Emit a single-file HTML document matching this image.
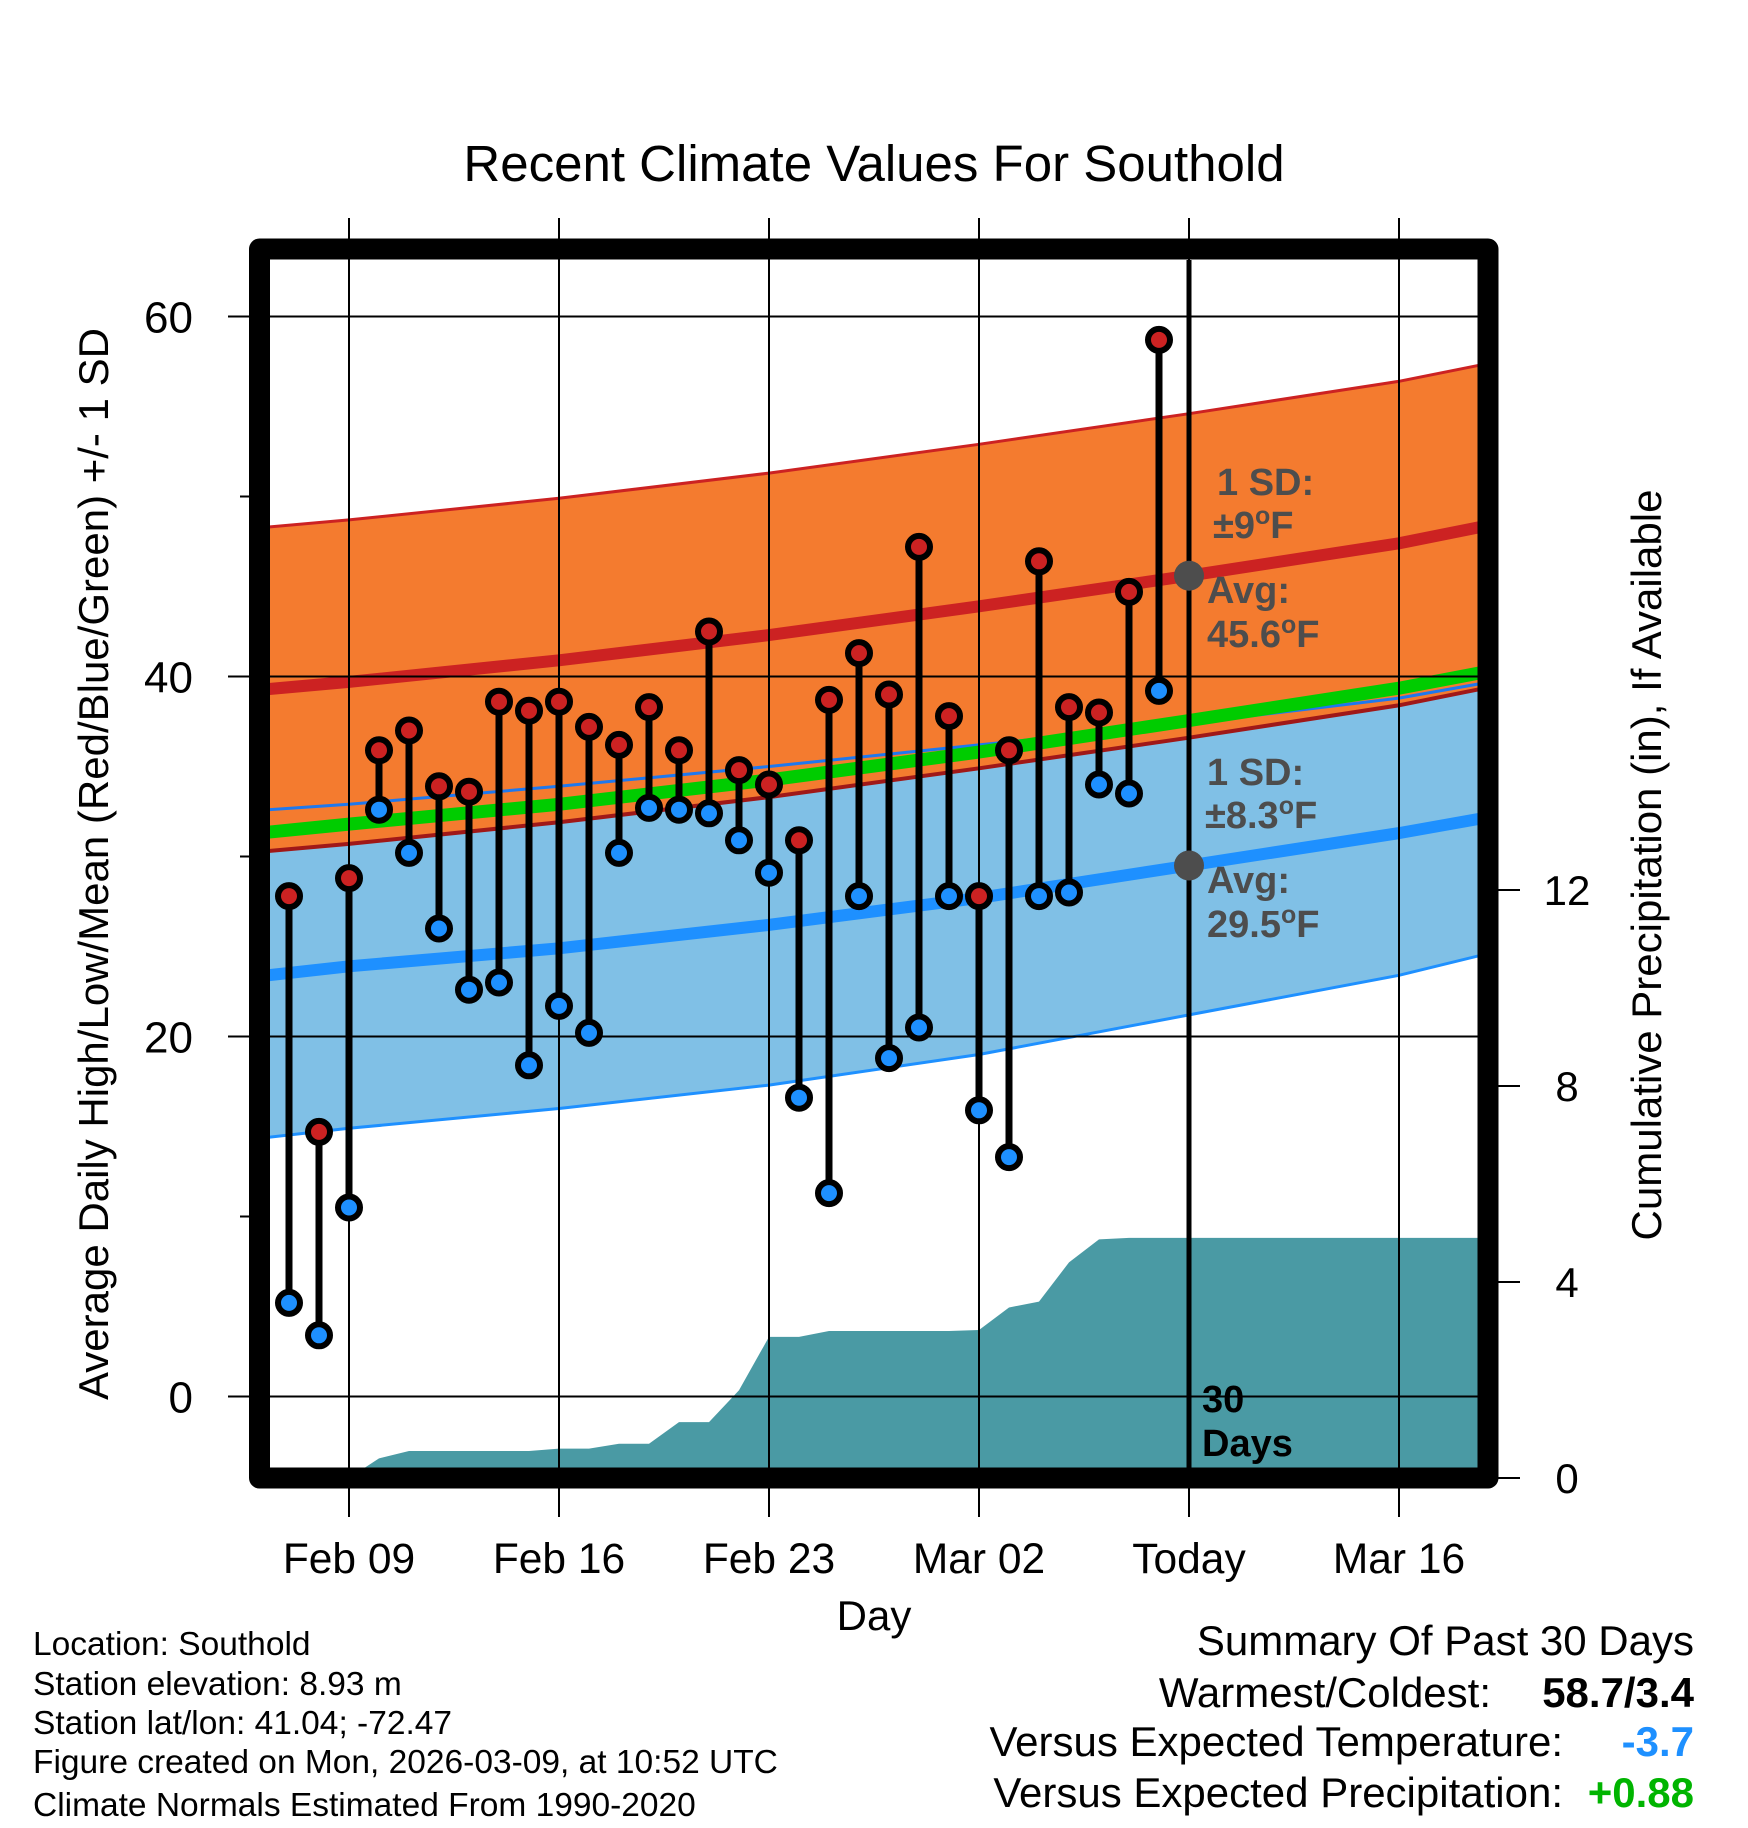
<!DOCTYPE html>
<html><head><meta charset="utf-8"><style>
html,body{margin:0;padding:0;background:#fff;}
svg{display:block;font-family:"Liberation Sans",sans-serif;}
</style></head><body>
<svg id="chart" width="1748" height="1828" viewBox="0 0 1748 1828" xmlns="http://www.w3.org/2000/svg">
<defs><clipPath id="plotclip"><rect x="270" y="260" width="1208" height="1208"/></clipPath></defs>
<text x="874" y="181" font-size="51" text-anchor="middle">Recent Climate Values For Southold</text>
<g id="grid"></g>
<g id="bands" clip-path="url(#plotclip)"></g>
<g id="precip" clip-path="url(#plotclip)"></g>
<g id="gridover" clip-path="url(#plotclip)"></g>
<g id="marks"></g>
<g id="annot" font-weight="bold" font-size="38" fill="#4d4d4d">
<text x="1217" y="495">1 SD:</text>
<text x="1213" y="538">±9<tspan font-size="25" dy="-14">o</tspan><tspan dy="14">F</tspan></text>
<text x="1207" y="603">Avg:</text>
<text x="1207" y="647">45.6<tspan font-size="25" dy="-14">o</tspan><tspan dy="14">F</tspan></text>
<text x="1207" y="785">1 SD:</text>
<text x="1205" y="828">±8.3<tspan font-size="25" dy="-14">o</tspan><tspan dy="14">F</tspan></text>
<text x="1207" y="893">Avg:</text>
<text x="1207" y="937">29.5<tspan font-size="25" dy="-14">o</tspan><tspan dy="14">F</tspan></text>
<text x="1202" y="1412" fill="#000">30</text>
<text x="1202" y="1456" fill="#000">Days</text>
</g>
<rect x="259.5" y="249" width="1228.5" height="1229" fill="none" stroke="#000" stroke-width="21" stroke-linejoin="round"/>
<g id="axes"></g>
<text transform="translate(108,864) rotate(-90)" font-size="42" text-anchor="middle">Average Daily High/Low/Mean (Red/Blue/Green) +/- 1 SD</text>
<text transform="translate(1661,865) rotate(-90)" font-size="42" text-anchor="middle">Cumulative Precipitation (in), If Available</text>
<text x="874" y="1630" font-size="42" text-anchor="middle">Day</text>
<g font-size="33.5">
<text x="33" y="1655">Location: Southold</text>
<text x="33" y="1695">Station elevation: 8.93 m</text>
<text x="33" y="1734">Station lat/lon: 41.04; -72.47</text>
<text x="33" y="1773">Figure created on Mon, 2026-03-09, at 10:52 UTC</text>
<text x="33" y="1816">Climate Normals Estimated From 1990-2020</text>
</g>
<g font-size="42">
<text x="1694" y="1655" text-anchor="end">Summary Of Past 30 Days</text>
<text x="1491" y="1707" text-anchor="end">Warmest/Coldest:</text>
<text x="1694" y="1707" text-anchor="end" font-weight="bold">58.7/3.4</text>
<text x="1563" y="1756" text-anchor="end">Versus Expected Temperature:</text>
<text x="1694" y="1756" text-anchor="end" font-weight="bold" fill="#1e90ff">-3.7</text>
<text x="1563" y="1807" text-anchor="end">Versus Expected Precipitation:</text>
<text x="1694" y="1807" text-anchor="end" font-weight="bold" fill="#00b400">+0.88</text>
</g>
</svg>
<script>
var dayLabels = ["Feb 09","Feb 16","Feb 23","Mar 02","Today","Mar 16"];
var dayTicks = [0,7,14,21,28,35];
var tempTicks = [0,20,40,60];
var tempMinor = [10,30,50];
var precipTicks = [0,4,8,12];
var obsDays = [-2,-1,0,1,2,3,4,5,6,7,8,9,10,11,12,13,14,15,16,17,18,19,20,21,22,23,24,25,26,27];
var highs = [27.8,14.7,28.8,35.9,37.0,33.9,33.6,38.6,38.1,38.6,37.2,36.2,38.3,35.9,42.5,34.8,34.0,30.9,38.7,41.3,39.0,47.2,37.8,27.8,35.9,46.4,38.3,38.0,44.7,58.7];
var lows = [5.2,3.4,10.5,32.6,30.2,26.0,22.6,23.0,18.4,21.7,20.2,30.2,32.7,32.6,32.4,30.9,29.1,16.6,11.3,27.8,18.8,20.5,27.8,15.9,13.3,27.8,28.0,34.0,33.5,39.2];
var normDays = [-2.7,0,7,14,21,28,35,37.7];
var highAvg = [39.3,39.7,40.9,42.3,43.9,45.6,47.4,48.3];
var highSD = 9;
var lowAvg = [23.4,23.9,24.9,26.2,27.7,29.5,31.3,32.1];
var lowUpper = [32.6,32.9,33.9,35.0,36.2,37.4,38.8,39.6];
var lowLower = [14.4,14.9,16.0,17.3,19.0,21.2,23.4,24.5];
var precipDays = [0,1,2,3,4,5,6,7,8,9,10,11,12,13,14,15,16,17,18,19,20,21,22,23,24,25,26,27,38];
var precipCum = [0,0.4,0.55,0.55,0.55,0.55,0.55,0.6,0.6,0.7,0.7,1.14,1.14,1.79,2.88,2.88,3.0,3.0,3.0,3.0,3.0,3.02,3.48,3.6,4.4,4.87,4.9,4.9,4.9];
var todayDay = 28, todayHigh = 45.6, todayLow = 29.5;

var NS="http://www.w3.org/2000/svg";
function X(d){return 349+30*d;}
function Y(t){return 1396.5-18*t;}
function P(p){return 1478-49*p;}
function mk(tag,attrs,parent){var e=document.createElementNS(NS,tag);for(var k in attrs)e.setAttribute(k,attrs[k]);parent.appendChild(e);return e;}
var grid=document.getElementById('grid'),bands=document.getElementById('bands'),precip=document.getElementById('precip'),gover=document.getElementById('gridover'),marks=document.getElementById('marks'),axes=document.getElementById('axes');

function bandPath(up,lo){var s="";for(var i=0;i<normDays.length;i++)s+=(i?"L":"M")+X(normDays[i])+","+Y(up[i]);for(var j=normDays.length-1;j>=0;j--)s+="L"+X(normDays[j])+","+Y(lo[j]);return s+"Z";}
function linePath(v){var s="";for(var i=0;i<normDays.length;i++)s+=(i?"L":"M")+X(normDays[i])+","+Y(v[i]);return s;}
var hUp=highAvg.map(function(v){return v+highSD;}), hLo=highAvg.map(function(v){return v-highSD;});
var mean=highAvg.map(function(v,i){return (v+lowAvg[i])/2;});

var e;
e=mk('path',{d:bandPath(lowUpper,lowLower),fill:'#80c0e6'},bands);


e=mk('path',{d:bandPath(hUp,hLo),fill:'#f47b2f'},bands);


e=mk('path',{d:linePath(lowUpper),fill:'none',stroke:'#1e78ee',"stroke-width":3},bands);


e=mk('path',{d:linePath(lowLower),fill:'none',stroke:'#1e90ff',"stroke-width":3},bands);


e=mk('path',{d:linePath(hUp),fill:'none',stroke:'#cc2222',"stroke-width":3},bands);


e=mk('path',{d:linePath(hLo),fill:'none',stroke:'#a01818',"stroke-width":4},bands);


e=mk('path',{d:linePath(mean),fill:'none',stroke:'#00cc00',"stroke-width":13},bands);


e=mk('path',{d:linePath(highAvg),fill:'none',stroke:'#cc2222',"stroke-width":12},bands);


e=mk('path',{d:linePath(lowAvg),fill:'none',stroke:'#1e90ff',"stroke-width":12},bands);



var ps="M"+X(precipDays[0])+","+P(0);
for(var i=0;i<precipDays.length;i++)ps+="L"+X(precipDays[i])+","+P(precipCum[i]);
ps+="L"+X(precipDays[precipDays.length-1])+","+P(0)+"Z";
e=mk('path',{d:ps,fill:'#4a9aa4'},precip);



tempTicks.forEach(function(t){
  var l=mk('line',{x1:228,x2:1478,y1:Y(t),y2:Y(t),stroke:'#000',"stroke-width":2},gover);
  
  
  var o=mk('line',{x1:228,x2:270,y1:Y(t),y2:Y(t),stroke:'#000',"stroke-width":2},grid);
  
  
  var tx=mk('text',{x:193,y:Y(t)+16,"font-size":44,"text-anchor":"end"},axes);
  tx.textContent=String(t);
  
  
});
tempMinor.forEach(function(t){
  var o=mk('line',{x1:240,x2:270,y1:Y(t),y2:Y(t),stroke:'#000',"stroke-width":2},grid);
  
  
});
dayTicks.forEach(function(d,i){
  var isToday=(d===todayDay);
  var l=mk('line',{x1:X(d),x2:X(d),y1:218,y2:1517,stroke:'#000',"stroke-width":2},grid);
  
  
  var g=mk('line',{x1:X(d),x2:X(d),y1:260,y2:1468,stroke:'#000',"stroke-width":isToday?5:2},gover);
  
  
  var tx=mk('text',{x:X(d),y:1573,"font-size":42.5,"text-anchor":"middle"},axes);
  tx.textContent=dayLabels[i];
  
  
});
precipTicks.forEach(function(p){
  var l=mk('line',{x1:1498,x2:1520,y1:P(p),y2:P(p),stroke:'#000',"stroke-width":2},axes);
  
  
  var tx=mk('text',{x:1567,y:P(p)+15,"font-size":42,"text-anchor":"middle"},axes);
  tx.textContent=String(p);
  
  
});

for(var k=0;k<obsDays.length;k++){
  var x=X(obsDays[k]);
  var b=mk('line',{x1:x,x2:x,y1:Y(highs[k]),y2:Y(lows[k]),stroke:'#000',"stroke-width":7},marks);
  
  
}
for(var k=0;k<obsDays.length;k++){
  var x=X(obsDays[k]);
  var h=mk('circle',{cx:x,cy:Y(highs[k]),r:11,fill:'#cc2222',stroke:'#000',"stroke-width":6},marks);
  
  
  var lo=mk('circle',{cx:x,cy:Y(lows[k]),r:11,fill:'#1e90ff',stroke:'#000',"stroke-width":6},marks);
  
  
}
var d1=mk('circle',{cx:X(todayDay),cy:Y(todayHigh),r:15,fill:'#4d4d4d'},marks);


var d2=mk('circle',{cx:X(todayDay),cy:Y(todayLow),r:15,fill:'#4d4d4d'},marks);


</script>
</body></html>
